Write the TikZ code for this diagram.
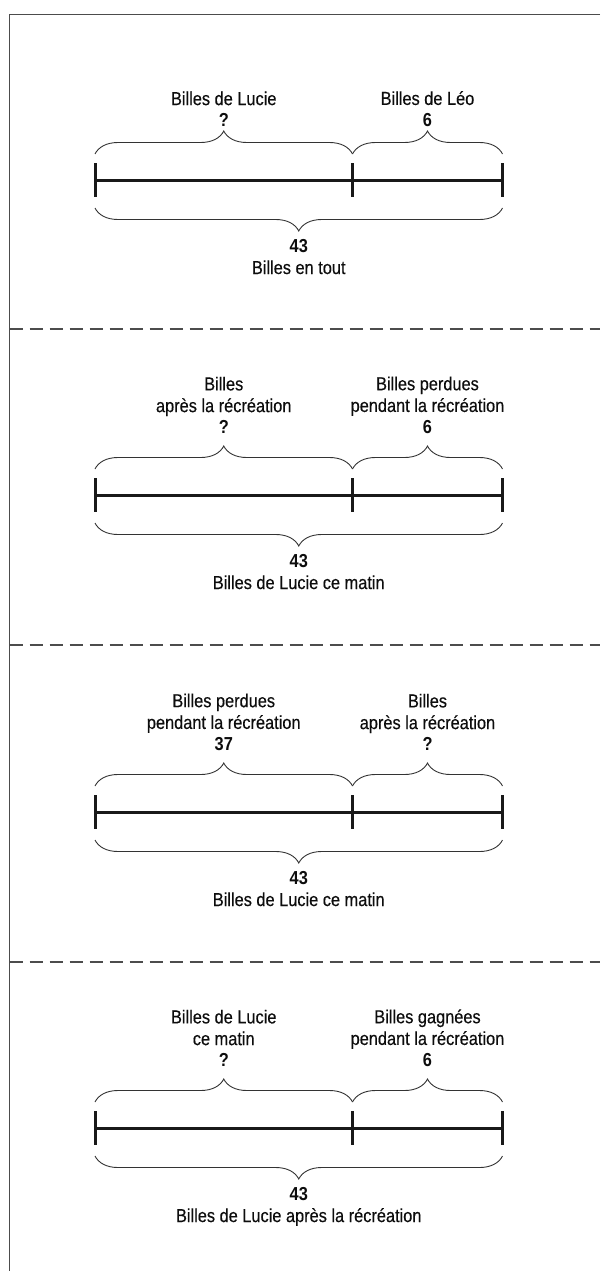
\documentclass[tikz,border=0pt]{standalone}
\usepackage{fontspec}
\setmainfont[FakeStretch=0.87, UprightFeatures={FakeBold=0.35}]{Liberation Sans}
\usepackage{tikz}
\usetikzlibrary{calc,decorations.pathreplacing}
\begin{document}
\begin{tikzpicture}[x=1pt,y=-1pt]
\tikzstyle{frame} = [draw=black!70, line width=1.3pt]
\tikzstyle{sep} = [frame, dash pattern=on 13pt off 7pt]
\tikzstyle{bar} = [draw=black!90, line width=3pt]
\tikzstyle{brace_up} = [draw=black!80, line width=0.9pt, decorate,
decoration={brace, amplitude=23pt}]
\tikzstyle{brace_down} = [brace_up, decoration={mirror}]
\tikzstyle{txt} = [align=center, inner sep=0pt, text=black!95,
font=\fontsize{18.8}{21.7}\selectfont]
\useasboundingbox (0,0) rectangle (600,1271);
% frame and separators
\coordinate (tl) at (9.5,14.5);
\draw[frame] (600,14.5) -- (tl) -- (9.5,1271);
\foreach \y in {329,645,962}
  \draw[sep] (9.5,\y) -- (600,\y);
% panel 1
\coordinate (a1) at (95,180);
\coordinate (m1) at (352.5,180);
\coordinate (b1) at (502.5,180);
\draw[bar] (a1) -- (b1);
\foreach \p in {a1,m1,b1} \draw[bar] (\p) ++(0,-17) -- ++(0,34);
\draw[brace_up] ($(a1)+(0,-26)$) -- ($(m1)+(0,-26)$);
\draw[brace_up] ($(m1)+(0,-26)$) -- ($(b1)+(0,-26)$);
\draw[brace_down] ($(a1)+(0,28)$) -- ($(b1)+(0,28)$);
\node[txt, anchor=south] (left1) at ($(a1)!0.5!(m1)+(0,-53)$) {Billes de Lucie\\\textbf{?}};
\node[txt, anchor=south] (right1) at ($(m1)!0.5!(b1)+(0,-53)$) {Billes de Léo\\\textbf{6}};
\node[txt, anchor=north] (total1) at ($(a1)!0.5!(b1)+(0,59)$) {\textbf{43}\\Billes en tout};
% panel 2
\coordinate (a2) at (95,495);
\coordinate (m2) at (352.5,495);
\coordinate (b2) at (502.5,495);
\draw[bar] (a2) -- (b2);
\foreach \p in {a2,m2,b2} \draw[bar] (\p) ++(0,-17) -- ++(0,34);
\draw[brace_up] ($(a2)+(0,-26)$) -- ($(m2)+(0,-26)$);
\draw[brace_up] ($(m2)+(0,-26)$) -- ($(b2)+(0,-26)$);
\draw[brace_down] ($(a2)+(0,28)$) -- ($(b2)+(0,28)$);
\node[txt, anchor=south] (left2) at ($(a2)!0.5!(m2)+(0,-61)$) {Billes\\après la récréation\\\textbf{?}};
\node[txt, anchor=south] (right2) at ($(m2)!0.5!(b2)+(0,-61)$) {Billes perdues\\pendant la récréation\\\textbf{6}};
\node[txt, anchor=north] (total2) at ($(a2)!0.5!(b2)+(0,59)$) {\textbf{43}\\Billes de Lucie ce matin};
% panel 3
\coordinate (a3) at (95,812);
\coordinate (m3) at (352.5,812);
\coordinate (b3) at (502.5,812);
\draw[bar] (a3) -- (b3);
\foreach \p in {a3,m3,b3} \draw[bar] (\p) ++(0,-17) -- ++(0,34);
\draw[brace_up] ($(a3)+(0,-26)$) -- ($(m3)+(0,-26)$);
\draw[brace_up] ($(m3)+(0,-26)$) -- ($(b3)+(0,-26)$);
\draw[brace_down] ($(a3)+(0,28)$) -- ($(b3)+(0,28)$);
\node[txt, anchor=south] (left3) at ($(a3)!0.5!(m3)+(0,-61)$) {Billes perdues\\pendant la récréation\\\textbf{37}};
\node[txt, anchor=south] (right3) at ($(m3)!0.5!(b3)+(0,-61)$) {Billes\\après la récréation\\\textbf{?}};
\node[txt, anchor=north] (total3) at ($(a3)!0.5!(b3)+(0,59)$) {\textbf{43}\\Billes de Lucie ce matin};
% panel 4
\coordinate (a4) at (95,1128);
\coordinate (m4) at (352.5,1128);
\coordinate (b4) at (502.5,1128);
\draw[bar] (a4) -- (b4);
\foreach \p in {a4,m4,b4} \draw[bar] (\p) ++(0,-17) -- ++(0,34);
\draw[brace_up] ($(a4)+(0,-26)$) -- ($(m4)+(0,-26)$);
\draw[brace_up] ($(m4)+(0,-26)$) -- ($(b4)+(0,-26)$);
\draw[brace_down] ($(a4)+(0,28)$) -- ($(b4)+(0,28)$);
\node[txt, anchor=south] (left4) at ($(a4)!0.5!(m4)+(0,-61)$) {Billes de Lucie\\ce matin\\\textbf{?}};
\node[txt, anchor=south] (right4) at ($(m4)!0.5!(b4)+(0,-61)$) {Billes gagnées\\pendant la récréation\\\textbf{6}};
\node[txt, anchor=north] (total4) at ($(a4)!0.5!(b4)+(0,59)$) {\textbf{43}\\Billes de Lucie après la récréation};
\end{tikzpicture}
\end{document}
